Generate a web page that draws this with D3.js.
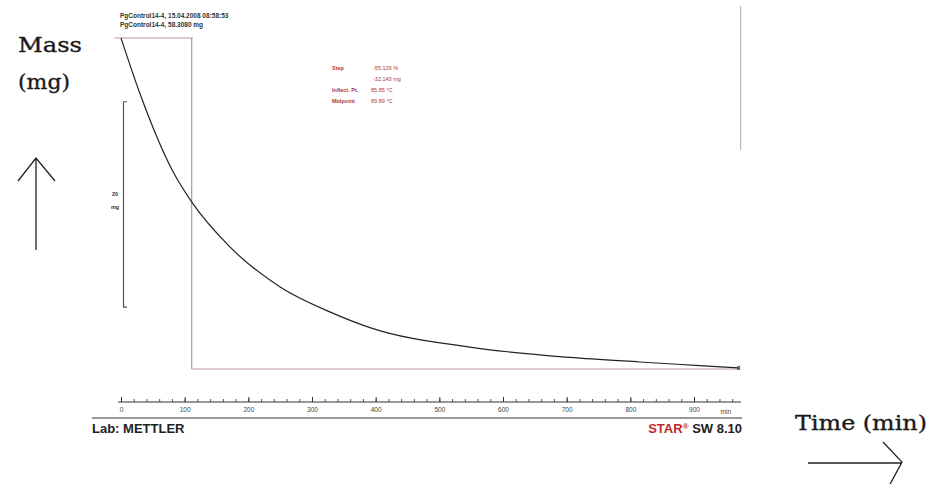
<!DOCTYPE html>
<meta charset="utf-8">
<script src="https://d3js.org/d3.v7.min.js"></script>
<style>
    body { margin: 0; background: #fff; }
    .hdr { font-family: 'Liberation Sans', Arial, sans-serif; font-size: 6.5px; font-weight: bold; fill: #333; }
    .red { font-family: 'Liberation Sans', Arial, sans-serif; font-size: 5.5px; fill: #a83a3a; }
    .tick text { font-family: 'Liberation Sans', Arial, sans-serif; font-size: 6.5px; fill: #444; }
    .big { font-family: 'DejaVu Serif', 'Liberation Serif', serif; font-size: 20px; fill: #1a1a1a; stroke: #1a1a1a; stroke-width: 0.35px; }
</style>
<div id="chart"></div>
<script>
    // data
    const times  = [0, 30, 82, 111, 171, 250, 328, 391, 548, 705, 815, 909, 970];        // min
    const masses = [58.31, 52.86, 45.26, 42.34, 37.96, 34.06, 31.63, 30.1, 28.2, 27.2, 26.75, 26.4, 26.17]; // mg
    const tickValues = [0, 100, 200, 300, 400, 500, 600, 700, 800, 900];
    const startMass = 58.308, endMass = 26.165, stepTime = 111, endTime = 970;
    const headerLines = ["PgControl14-4, 15.04.2008 08:58:53", "PgControl14-4, 58.3080 mg"];
    const resultLabels = ["Step", "", "Inflect. Pt.", "Midpoint"];
    const resultValues = ["-55.129 %", "-32.143 mg", "85.85 °C", "89.89 °C"];

    const width = 930, height = 484;
    const svg = d3.select("#chart").append("svg")
        .attr("width", width)
        .attr("height", height);

    const x = d3.scaleLinear().domain([0, 900]).range([121, 694]);
    const y = d3.scaleLinear().domain([startMass, endMass]).range([38, 368]);

    // header
    svg.selectAll(".hdr")
        .data(headerLines)
        .enter().append("text")
        .attr("class", "hdr")
        .attr("x", 120)
        .attr("y", function (d, i) { return 18 + i * 9; })
        .text(function (d) { return d; });

    // evaluation lines
    const evalColor = "#b89898";
    svg.append("line")
        .attr("x1", x(-10)).attr("x2", x(stepTime + 2))
        .attr("y1", y(startMass)).attr("y2", y(startMass))
        .style("stroke", evalColor).style("stroke-width", 1.2);
    svg.append("line")
        .attr("x1", x(stepTime)).attr("x2", x(stepTime))
        .attr("y1", y(startMass)).attr("y2", y(endMass) + 1)
        .style("stroke", evalColor).style("stroke-width", 1.2);
    svg.append("line")
        .attr("x1", x(stepTime)).attr("x2", x(endTime))
        .attr("y1", y(endMass) + 1).attr("y2", y(endMass) + 1)
        .style("stroke", evalColor).style("stroke-width", 1.2);

    // right gray line
    svg.append("line")
        .attr("x1", x(endTime) + 2).attr("x2", x(endTime) + 2)
        .attr("y1", 6).attr("y2", 150)
        .style("stroke", "#bbb").style("stroke-width", 1.2);

    // result text
    const res = svg.append("g");
    res.selectAll(".lab")
        .data(resultLabels)
        .enter().append("text")
        .attr("class", "red")
        .attr("x", 332)
        .attr("y", function (d, i) { return 70 + i * 11; })
        .style("font-weight", "bold")
        .text(function (d) { return d; });
    res.selectAll(".val")
        .data(resultValues)
        .enter().append("text")
        .attr("class", "red")
        .attr("x", function (d, i) { return i === 2 || i === 3 ? 371 : 373; })
        .attr("y", function (d, i) { return 70 + i * 11; })
        .text(function (d) { return d; });

    // 20 mg scale bar
    const barTop = 52.1;
    svg.append("path")
        .attr("d", "M" + 127 + "," + y(barTop) + "H" + 123.5 + "V" + y(barTop - 20) + "H" + 127)
        .style("fill", "none").style("stroke", "#555").style("stroke-width", 1.2);
    svg.append("text").attr("class", "hdr").attr("x", 115).attr("y", y(barTop - 9.2))
        .attr("text-anchor", "middle").style("font-size", "5.5px").text("20");
    svg.append("text").attr("class", "hdr").attr("x", 115).attr("y", y(barTop - 10.4))
        .attr("text-anchor", "middle").style("font-size", "5.5px").text("mg");

    // curve
    const line = d3.line()
        .x(function (d) { return x(d[0]); })
        .y(function (d) { return y(d[1]); })
        .curve(d3.curveMonotoneX);
    svg.append("path")
        .datum(d3.zip(times, masses))
        .attr("d", line)
        .style("fill", "none")
        .style("stroke", "#222")
        .style("stroke-width", 1.2);
    svg.append("rect")
        .attr("x", x(endTime) - 1.5).attr("y", y(masses[masses.length - 1]) - 2)
        .attr("width", 3).attr("height", 4)
        .style("fill", "#666");

    // time axis
    const axisY = 402;
    svg.append("line")
        .attr("x1", 118).attr("x2", 741).attr("y1", axisY).attr("y2", axisY)
        .style("stroke", "#333").style("stroke-width", 1.2);
    svg.append("g")
        .attr("transform", "translate(0," + axisY + ")")
        .call(d3.axisTop(x).tickValues(d3.range(0, 980, 20)).tickSize(3).tickFormat(""))
        .call(function (g) { g.select(".domain").remove(); })
        .selectAll("line").style("stroke", "#555");
    svg.append("g")
        .attr("transform", "translate(0," + axisY + ")")
        .call(d3.axisTop(x).tickValues(tickValues).tickSize(5).tickFormat(""))
        .call(function (g) { g.select(".domain").remove(); })
        .selectAll("line").style("stroke", "#333");
    svg.append("g")
        .attr("transform", "translate(0," + (axisY + 1) + ")")
        .call(d3.axisBottom(x).tickValues(tickValues).tickSize(0).tickPadding(4))
        .call(function (g) { g.select(".domain").remove(); });
    svg.append("text")
        .attr("x", x(950)).attr("y", axisY + 12)
        .attr("text-anchor", "middle")
        .style("font-family", "'Liberation Sans', Arial, sans-serif").style("font-size", "6.5px").style("fill", "#444")
        .text("min");
    svg.append("line")
        .attr("x1", 92).attr("x2", 742).attr("y1", 418).attr("y2", 418)
        .style("stroke", "#333").style("stroke-width", 1.2);

    // footer
    svg.append("text")
        .attr("x", 92).attr("y", 433)
        .style("font-family", "'Liberation Sans', Arial, sans-serif")
        .style("font-size", "13px").style("font-weight", "bold").style("fill", "#222")
        .text("Lab: METTLER");
    const star = svg.append("text")
        .attr("x", 742).attr("y", 433)
        .attr("text-anchor", "end")
        .style("font-family", "'Liberation Sans', Arial, sans-serif")
        .style("font-size", "13px").style("font-weight", "bold");
    star.append("tspan").style("fill", "#c0282d").text("STAR");
    star.append("tspan").style("fill", "#c0282d").style("font-size", "8px").attr("dy", -4).text("®");
    star.append("tspan").style("fill", "#222").attr("dy", 4).text(" SW 8.10");

    // hand-drawn axis titles
    svg.append("text").attr("class", "big").attr("x", 18).attr("y", 52)
        .attr("textLength", 64).attr("lengthAdjust", "spacingAndGlyphs").text("Mass");
    svg.append("text").attr("class", "big").attr("x", 18).attr("y", 89)
        .attr("textLength", 52).attr("lengthAdjust", "spacingAndGlyphs").text("(mg)");
    svg.append("text").attr("class", "big").attr("x", 795).attr("y", 430)
        .attr("textLength", 132).attr("lengthAdjust", "spacingAndGlyphs").text("Time (min)");

    const arrow = { stroke: "#222", width: 1.3 };
    svg.append("path")
        .attr("d", "M36,250V158M18,181L36,158L55,181")
        .style("fill", "none").style("stroke", arrow.stroke).style("stroke-width", arrow.width);
    svg.append("path")
        .attr("d", "M808,463H902M883,442L902,462L888,488")
        .style("fill", "none").style("stroke", arrow.stroke).style("stroke-width", arrow.width);
</script>
